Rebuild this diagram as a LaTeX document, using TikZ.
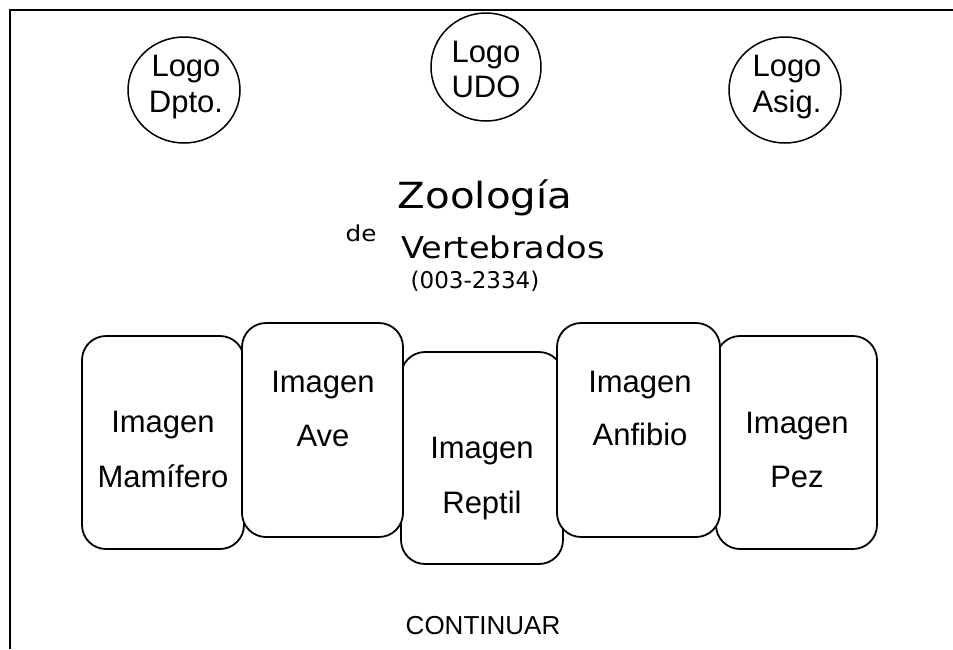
\documentclass[tikz,border=0pt]{standalone}
\usepackage{fontspec}
\setmainfont{Liberation Sans}
\newfontfamily\titlefont[FakeStretch=1.12]{DejaVu Sans}
\newfontfamily\codefont{DejaVu Sans}

\begin{document}
\begin{tikzpicture}[x=1pt,y=-1pt, every node/.style={inner sep=0pt}]

\tikzset{caja/.style={draw,fill=white,line width=1.8pt,rounded corners=24pt},
         logo/.style={draw,line width=1.5pt},
         rotulo/.style={anchor=base,font=\fontsize{31}{37}\selectfont}}

\useasboundingbox (0,0) rectangle (953,649);

\draw [line width=2pt] (10,649) -- (10,10) -- (953,10);

% logos
\draw [logo] (184,90) ellipse (56 and 53);
\draw [logo] (486,67) ellipse (55 and 54);
\draw [logo] (785,90) ellipse (56 and 53);

\node [rotulo] (dpto1) at (186,76) {Logo};
\node [rotulo] (dpto2) at (186,112) {Dpto.};
\node [rotulo] (udo1) at (486,62) {Logo};
\node [rotulo] (udo2) at (486,97) {UDO};
\node [rotulo] (asig1) at (787,76) {Logo};
\node [rotulo] (asig2) at (787,112) {Asig.};

% titulo
\node [anchor=base,font=\titlefont\fontsize{36}{40}\selectfont] (zoo) at (485,208) {Zoología};
\node [anchor=base,font=\titlefont\fontsize{22}{26}\selectfont] (de) at (361,241) {de};
\node [anchor=base,font=\titlefont\fontsize{30}{34}\selectfont] (vert) at (503,258) {Vertebrados};
\node [anchor=base,font=\codefont\fontsize{23}{26}\selectfont] (codigo) at (475,288) {(003-2334)};

% imagenes
\draw [caja] (82,336) rectangle (244,549);
\draw [caja] (401,352) rectangle (563,564);
\draw [caja] (716,336) rectangle (877,549);
\draw [caja] (242,323) rectangle (403,537);
\draw [caja] (557,323) rectangle (720,537);

\node [rotulo] (mam1) at (163,432) {Imagen};
\node [rotulo] (mam2) at (163,487) {Mamífero};
\node [rotulo] (ave1) at (323,392) {Imagen};
\node [rotulo] (ave2) at (323,446) {Ave};
\node [rotulo] (rep1) at (482,458) {Imagen};
\node [rotulo] (rep2) at (482,513) {Reptil};
\node [rotulo] (anf1) at (640,392) {Imagen};
\node [rotulo] (anf2) at (640,445) {Anfibio};
\node [rotulo] (pez1) at (797,433) {Imagen};
\node [rotulo] (pez2) at (797,487) {Pez};

\node [anchor=base,font=\fontsize{26}{30}\selectfont] (continuar) at (483,634) {CONTINUAR};

\end{tikzpicture}
\end{document}
